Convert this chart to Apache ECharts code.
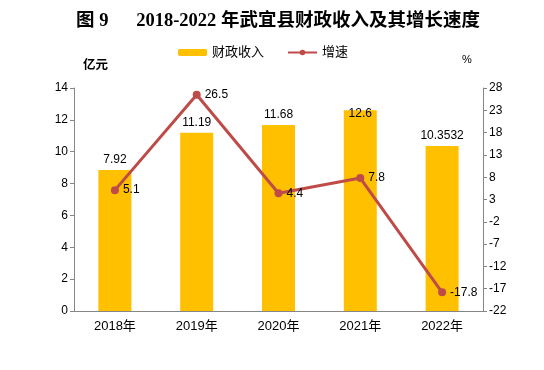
<!DOCTYPE html>
<html>
<head>
<meta charset="utf-8">
<script src="https://cdn.jsdelivr.net/npm/echarts@6/dist/echarts.min.js"></script>
<style>html,body{margin:0;padding:0;background:#fff}#c{width:544px;height:370px}</style>
</head>
<body>
<div id="c"></div>
<script>
var titleText = '图 9      2018-2022 年武宜县财政收入及其增长速度';
var categories = ['2018年', '2019年', '2020年', '2021年', '2022年'];
var revenue = [8.85, 11.19, 11.68, 12.6, 10.3532];
var revenueLabels = ['7.92', '11.19', '11.68', '12.6', '10.3532'];
var growth = [5.1, 26.5, 4.4, 7.8, -17.8];
var leftTicks = {min: 0, max: 14, interval: 2};
var rightTicks = {min: -22, max: 28, interval: 5};

var font = '"Liberation Sans", "Noto Sans CJK SC", sans-serif';
var chart = echarts.init(document.getElementById('c'), null, {renderer: 'canvas'});

var barData = revenue.map(function (v, i) {
  var d = {value: v, label: {formatter: revenueLabels[i]}};
  if (i === 3) { d.label.position = 'insideTop'; d.label.distance = 0; d.label.offset = [0, -3]; }
  return d;
});

chart.setOption({
  animation: false,
  title: [
    {text: titleText, left: 76, top: 12, padding: 0,
     textStyle: {fontFamily: '"Liberation Serif", "Noto Sans CJK SC", serif', fontSize: 18.5, fontWeight: 'bold', color: '#000'}},
    {text: '亿元', left: 83, top: 59, padding: 0,
     textStyle: {fontFamily: font, fontSize: 12.5, fontWeight: 'bold', color: '#000'}},
    {text: '%', left: 462, top: 54, padding: 0,
     textStyle: {fontFamily: font, fontSize: 11, fontWeight: 'normal', color: '#000'}}
  ],
  legend: {
    left: 178, top: 46, padding: 0, itemGap: 23, itemWidth: 29, itemHeight: 7,
    textStyle: {fontFamily: font, fontSize: 13, color: '#000'},
    data: ['财政收入', '增速']
  },
  grid: {left: 74, right: 61, top: 88, bottom: 59},
  xAxis: {
    type: 'category', data: categories,
    axisLine: {lineStyle: {color: '#868686', width: 1}},
    axisTick: {inside: true, length: 5, lineStyle: {color: '#868686'}},
    axisLabel: {fontFamily: font, fontSize: 13, color: '#000', margin: 9}
  },
  yAxis: [
    {type: 'value', min: leftTicks.min, max: leftTicks.max, interval: leftTicks.interval,
     splitLine: {show: false},
     axisLine: {show: true, lineStyle: {color: '#868686'}},
     axisTick: {show: true, length: 4, lineStyle: {color: '#868686'}},
     axisLabel: {fontFamily: font, fontSize: 12, color: '#000', margin: 6}},
    {type: 'value', min: rightTicks.min, max: rightTicks.max, interval: rightTicks.interval,
     splitLine: {show: false},
     axisLine: {show: true, lineStyle: {color: '#868686'}},
     axisTick: {show: true, length: 4, lineStyle: {color: '#868686'}},
     axisLabel: {fontFamily: font, fontSize: 12, color: '#000', margin: 6}}
  ],
  series: [
    {name: '财政收入', type: 'bar', yAxisIndex: 0, barWidth: 33, data: barData,
     itemStyle: {color: '#FFC000'},
     label: {show: true, position: 'top', distance: 4, fontFamily: font, fontSize: 12, color: '#000'}},
    {name: '增速', type: 'line', yAxisIndex: 1, data: growth,
     symbol: 'circle', symbolSize: 8,
     lineStyle: {color: '#BE4B48', width: 3}, itemStyle: {color: '#BE4B48'},
     label: {show: true, position: 'right', distance: 4, fontFamily: font, fontSize: 12, color: '#000'}}
  ]
});
</script>
</body>
</html>
